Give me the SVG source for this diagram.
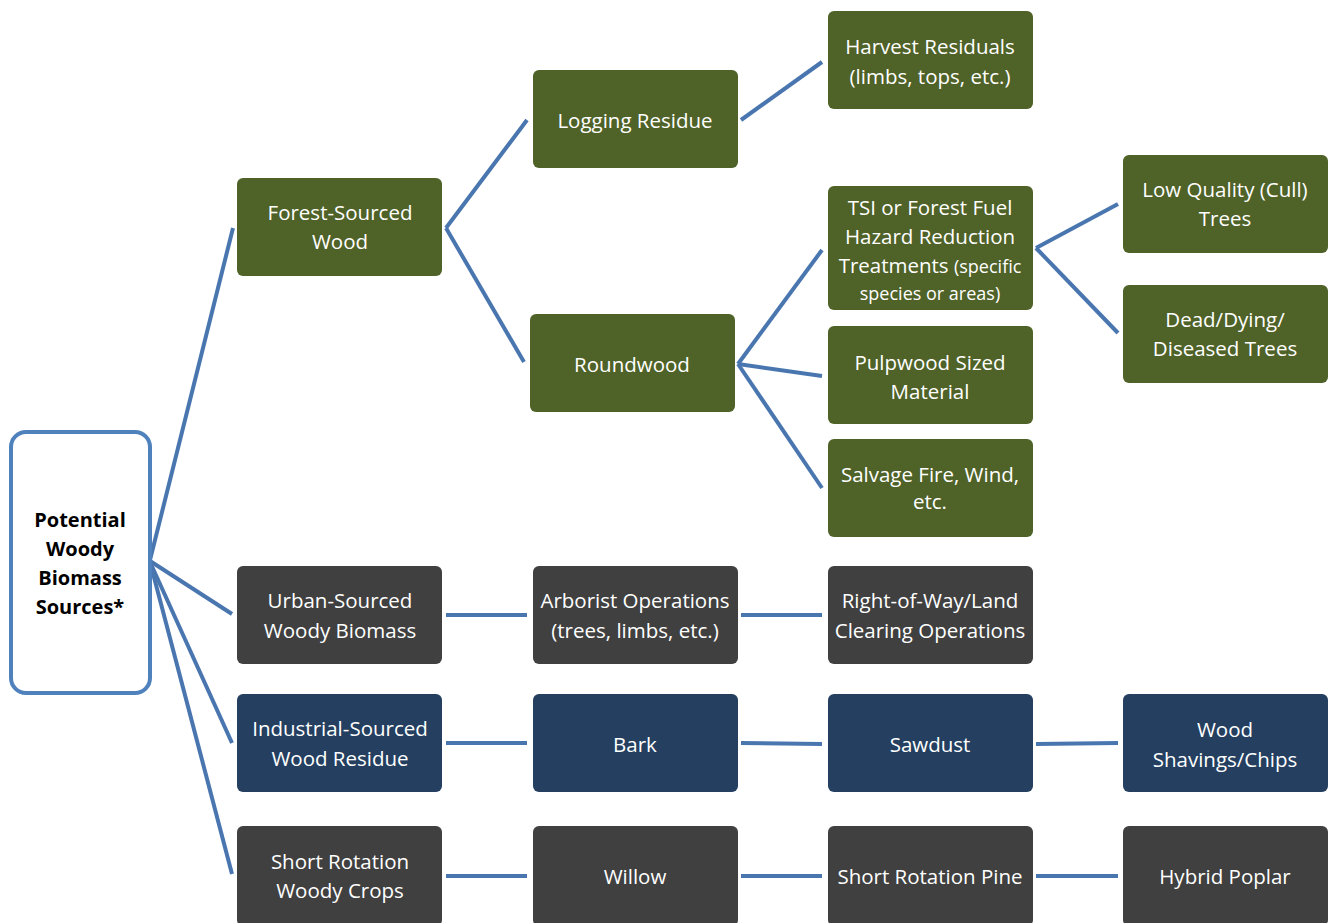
<svg xmlns="http://www.w3.org/2000/svg" width="1331" height="923" viewBox="0 0 1331 923">
<style>
.g{fill:#4f6228}
.d{fill:#404040}
.n{fill:#243f60}
.t{font-family:"Open Sans","Liberation Sans",sans-serif;font-size:20.5px;fill:#fff;text-anchor:middle}
.s{font-size:18px}
.r{font-family:"Open Sans","Liberation Sans",sans-serif;font-size:20px;font-weight:bold;fill:#000;text-anchor:middle}
#connectors line{stroke:#4a76b0;stroke-width:4;stroke-linecap:butt}
</style>
<rect width="1331" height="923" fill="#fff"/>
<g id="connectors">
<line x1="150" y1="560" x2="233" y2="228"/>
<line x1="150" y1="561" x2="232" y2="614"/>
<line x1="150" y1="562" x2="232" y2="743"/>
<line x1="150" y1="562" x2="232" y2="874"/>
<line x1="446" y1="228" x2="527" y2="120"/>
<line x1="446" y1="228" x2="524" y2="362"/>
<line x1="741" y1="120" x2="822" y2="62"/>
<line x1="738" y1="364" x2="822" y2="250"/>
<line x1="738" y1="364" x2="822" y2="376"/>
<line x1="738" y1="364" x2="822" y2="488"/>
<line x1="1036" y1="248" x2="1118" y2="204"/>
<line x1="1036" y1="248" x2="1118" y2="333"/>
<line x1="446" y1="615" x2="527" y2="615"/>
<line x1="741" y1="615" x2="822" y2="615"/>
<line x1="446" y1="743" x2="527" y2="743"/>
<line x1="741" y1="743" x2="822" y2="744"/>
<line x1="1036" y1="744" x2="1118" y2="743"/>
<line x1="446" y1="876" x2="527" y2="876"/>
<line x1="741" y1="876" x2="822" y2="876"/>
<line x1="1036" y1="876" x2="1118" y2="876"/>
</g>
<g id="root">
<rect x="11" y="432" width="139" height="261" rx="15" fill="#fff" stroke="#4f81bd" stroke-width="4"/>
<text class="r" x="80" y="527">Potential</text>
<text class="r" x="80" y="556">Woody</text>
<text class="r" x="80" y="585">Biomass</text>
<text class="r" x="80" y="614">Sources*</text>
</g>
<g id="forest"><rect class="g" x="237" y="178" width="205" height="98" rx="6"/>
<text class="t" x="340" y="220">Forest-Sourced</text><text class="t" x="340" y="249">Wood</text></g>
<g id="urban"><rect class="d" x="237" y="566" width="205" height="98" rx="6"/>
<text class="t" x="340" y="608">Urban-Sourced</text><text class="t" x="340" y="638">Woody Biomass</text></g>
<g id="industrial"><rect class="n" x="237" y="694" width="205" height="98" rx="6"/>
<text class="t" x="340" y="736">Industrial-Sourced</text><text class="t" x="340" y="766">Wood Residue</text></g>
<g id="shortrot"><rect class="d" x="237" y="826" width="205" height="100" rx="6"/>
<text class="t" x="340" y="869">Short Rotation</text><text class="t" x="340" y="898">Woody Crops</text></g>
<g id="logging"><rect class="g" x="533" y="70" width="205" height="98" rx="6"/>
<text class="t" x="635" y="128">Logging Residue</text></g>
<g id="roundwood"><rect class="g" x="530" y="314" width="205" height="98" rx="6"/>
<text class="t" x="632" y="372">Roundwood</text></g>
<g id="arborist"><rect class="d" x="533" y="566" width="205" height="98" rx="6"/>
<text class="t" x="635" y="608">Arborist Operations</text><text class="t" x="635" y="638">(trees, limbs, etc.)</text></g>
<g id="bark"><rect class="n" x="533" y="694" width="205" height="98" rx="6"/>
<text class="t" x="635" y="752">Bark</text></g>
<g id="willow"><rect class="d" x="533" y="826" width="205" height="100" rx="6"/>
<text class="t" x="635" y="884">Willow</text></g>
<g id="harvest"><rect class="g" x="828" y="11" width="205" height="98" rx="6"/>
<text class="t" x="930" y="54">Harvest Residuals</text><text class="t" x="930" y="84">(limbs, tops, etc.)</text></g>
<g id="tsi"><rect class="g" x="828" y="186" width="205" height="124" rx="6"/>
<text class="t" x="930" y="215">TSI or Forest Fuel</text><text class="t" x="930" y="244">Hazard Reduction</text>
<text class="t" x="930" y="273">Treatments <tspan class="s">(specific</tspan></text><text class="t s" x="930" y="300">species or areas)</text></g>
<g id="pulpwood"><rect class="g" x="828" y="326" width="205" height="98" rx="6"/>
<text class="t" x="930" y="370">Pulpwood Sized</text><text class="t" x="930" y="399">Material</text></g>
<g id="salvage"><rect class="g" x="828" y="439" width="205" height="98" rx="6"/>
<text class="t" x="930" y="482">Salvage Fire, Wind,</text><text class="t" x="930" y="509">etc.</text></g>
<g id="rightofway"><rect class="d" x="828" y="566" width="205" height="98" rx="6"/>
<text class="t" x="930" y="608">Right-of-Way/Land</text><text class="t" x="930" y="638">Clearing Operations</text></g>
<g id="sawdust"><rect class="n" x="828" y="694" width="205" height="98" rx="6"/>
<text class="t" x="930" y="752">Sawdust</text></g>
<g id="srpine"><rect class="d" x="828" y="826" width="205" height="100" rx="6"/>
<text class="t" x="930" y="884">Short Rotation Pine</text></g>
<g id="lowquality"><rect class="g" x="1123" y="155" width="205" height="98" rx="6"/>
<text class="t" x="1225" y="197">Low Quality (Cull)</text><text class="t" x="1225" y="226">Trees</text></g>
<g id="dead"><rect class="g" x="1123" y="285" width="205" height="98" rx="6"/>
<text class="t" x="1225" y="327">Dead/Dying/</text><text class="t" x="1225" y="356">Diseased Trees</text></g>
<g id="shavings"><rect class="n" x="1123" y="694" width="205" height="98" rx="6"/>
<text class="t" x="1225" y="737">Wood</text><text class="t" x="1225" y="767">Shavings/Chips</text></g>
<g id="poplar"><rect class="d" x="1123" y="826" width="205" height="100" rx="6"/>
<text class="t" x="1225" y="884">Hybrid Poplar</text></g>
</svg>
